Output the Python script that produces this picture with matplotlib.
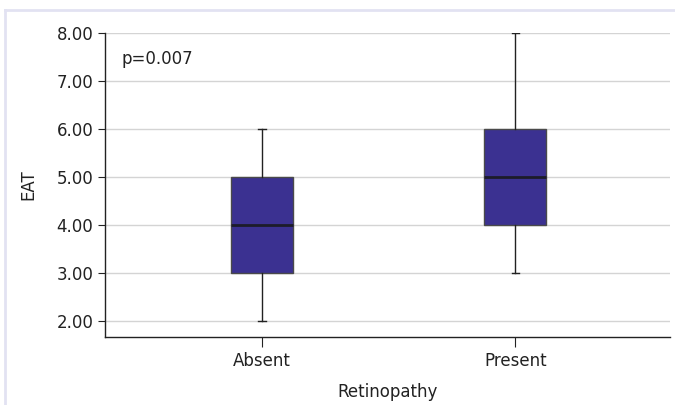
import matplotlib
matplotlib.use("Agg")
import matplotlib.pyplot as plt
from matplotlib.lines import Line2D

categories = ["Absent", "Present"]
whisker_low = [2.0, 3.0]
q1 = [3.0, 4.0]
median = [4.0, 5.0]
q3 = [5.0, 6.0]
whisker_high = [6.0, 8.0]
yticks = [2.0, 3.0, 4.0, 5.0, 6.0, 7.0, 8.0]

plt.rcParams['font.family'] = ['DejaVu Sans']

fig = plt.figure(figsize=(6.75, 4.05), dpi=100)
ax = fig.add_axes([0.1556, 0.1679, 0.9926 - 0.1556, 0.9185 - 0.1679])

stats = []
for i, c in enumerate(categories):
    stats.append(dict(label=c, med=median[i], q1=q1[i], q3=q3[i],
                      whislo=whisker_low[i], whishi=whisker_high[i], fliers=[]))

ax.bxp(stats, positions=range(len(categories)), widths=0.245, patch_artist=True,
       showfliers=False, capwidths=0.03,
       boxprops=dict(facecolor='#3b3191', edgecolor='#4a4a4a', linewidth=1.0),
       medianprops=dict(color='#1c1c2a', linewidth=2.0),
       whiskerprops=dict(color='#222222', linewidth=1.0),
       capprops=dict(color='#222222', linewidth=1.0))

ax.set_xlim(-0.62, 1.61)
ax.set_ylim(1.667, 8.0)
ax.set_yticks(yticks)
ax.set_yticklabels([f"{v:.2f}" for v in yticks])
ax.set_xticks(range(len(categories)))
ax.set_xticklabels(categories)
ax.yaxis.grid(True, color='#d4d4d4', linewidth=1.0)
ax.set_axisbelow(True)
for s in ['top', 'right']:
    ax.spines[s].set_visible(False)
for s in ['left', 'bottom']:
    ax.spines[s].set_color('#222222')
    ax.spines[s].set_linewidth(1.0)
ax.tick_params(axis='y', labelsize=12, length=5, color='#222222', labelcolor='#222222')
ax.tick_params(axis='x', labelsize=12, length=7, color='#222222', labelcolor='#222222')
ax.set_ylabel("EAT", fontsize=12, color='#222222', labelpad=14)
ax.set_xlabel("Retinopathy", fontsize=12, color='#222222', labelpad=10)
ax.text(0.03, 0.915, "p=0.007", transform=ax.transAxes, fontsize=12,
        color='#222222', va='center', ha='left')

# light frame lines around figure (top and left)
fig.add_artist(Line2D([5/675, 1.0], [1 - 10/405, 1 - 10/405], color='#e2e2f2', linewidth=2, transform=fig.transFigure))
fig.add_artist(Line2D([5/675, 5/675], [0, 1 - 10/405], color='#e2e2f2', linewidth=2, transform=fig.transFigure))

fig.savefig("out.png", dpi=100)
